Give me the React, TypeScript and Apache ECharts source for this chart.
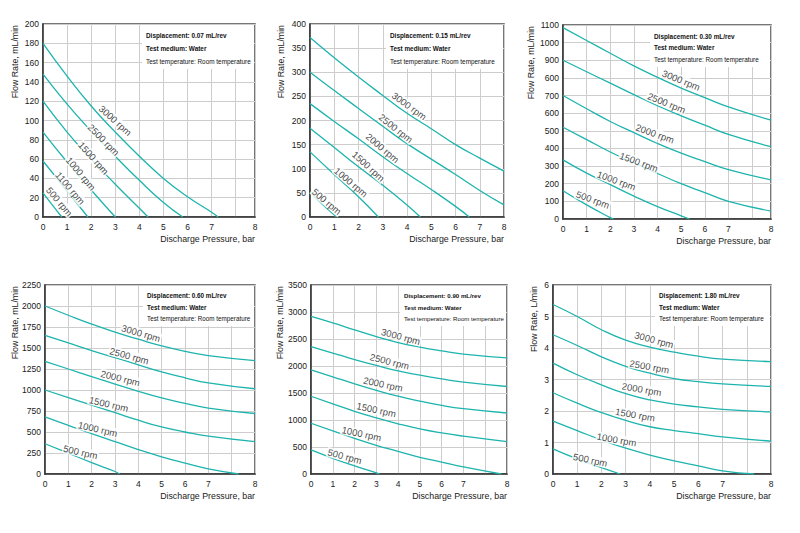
import React, { useEffect, useRef } from "react";
import * as echarts from "echarts";

// ---- data ----
const xTickLabels = ["0", "1", "2", "3", "4", "5", "6", "7", "8"];
// axis position of the last tick label "8" in each panel (reference's uneven last segment)
const xEndPositions = [8.8, 8, 8.8, 9, 9, 9];
const yMaxValues = [200, 400, 1100, 2250, 3500, 6];
const yIntervals = [20, 50, 100, 250, 500, 1];
const panel3YTickLabels = ["0", "100", "200", "300", "400", "500", "600", "700", "600", "900", "1000", "1100"];
const yNames = ["Flow Rate, mL/min", "Flow Rate, mL/min", "Flow Rate, mL/min", "Flow Rate, mL/min", "Flow Rate, mL/min", "Flow Rate, L/min"];
const xName = "Discharge Pressure, bar";
const displacements = ["0.07 mL/rev", "0.15 mL/rev", "0.30 mL/rev", "0.60 mL/rev", "0.90 mL/rev", "1.80 mL/rev"];
const mediumText = "Test medium: Water";
const temperatureText = "Test temperature: Room temperature";

const rpmNamesPanel1 = ["500 rpm", "1100 rpm", "1000 rpm", "1500 rpm", "2500 rpm", "3000 rpm"];
const rpmNames = ["500 rpm", "1000 rpm", "1500 rpm", "2000 rpm", "2500 rpm", "3000 rpm"];

// curves: [pressure (bar), flow]
const panel1Curves = [
  [[0, 25], [0.4, 12], [0.78, 0]],
  [[0, 58], [1, 27], [1.86, 0]],
  [[0, 88], [1, 57], [2, 28], [3.0, 0]],
  [[0, 120], [1, 88], [2, 60], [3, 34], [4, 9], [4.36, 0]],
  [[0, 148], [1, 117], [2, 89], [3, 63], [4, 38], [5, 15], [5.8, 0]],
  [[0, 180], [1, 146], [2, 115], [3, 88], [4, 63], [5, 40], [6, 21], [7, 5], [7.15, 0]],
];
const panel2Curves = [
  [[0, 52], [0.5, 27], [1.1, 0]],
  [[0, 135], [1, 88], [2, 42], [2.82, 0]],
  [[0, 184], [1, 144], [2, 104], [3, 66], [4, 25], [4.55, 0]],
  [[0, 235], [1, 198], [2, 162], [3, 125], [4, 90], [5, 57], [6, 22], [6.57, 0]],
  [[0, 300], [1, 262], [2, 225], [3, 188], [4, 152], [5, 120], [6, 88], [7, 55], [8, 25]],
  [[0, 372], [1, 330], [2, 290], [3, 252], [4, 215], [5, 183], [6, 150], [7, 122], [8, 95]],
];
const panel3Curves = [
  [[0, 160], [1, 80], [2, 8], [2.14, 0]],
  [[0, 335], [1, 260], [2, 195], [3, 130], [4, 70], [5, 18], [5.35, 0]],
  [[0, 520], [1, 450], [2, 380], [3, 318], [4, 258], [5, 200], [6, 150], [7, 100], [8, 45]],
  [[0, 700], [1, 625], [2, 553], [3, 490], [4, 428], [5, 373], [6, 325], [7, 280], [8, 222]],
  [[0, 900], [1, 835], [2, 770], [3, 705], [4, 642], [5, 585], [6, 532], [7, 480], [8, 410]],
  [[0, 1085], [1, 1012], [2, 940], [3, 868], [4, 803], [5, 742], [6, 688], [7, 636], [8, 560]],
];
const panel4Curves = [
  [[0, 360], [1, 248], [2, 135], [3, 30], [3.2, 0]],
  [[0, 680], [1, 580], [2, 480], [3, 385], [4, 290], [5, 205], [6, 130], [7, 60], [7.65, 0]],
  [[0, 1000], [1, 910], [2, 820], [3, 730], [4, 640], [5, 560], [6, 500], [7, 450], [8, 385]],
  [[0, 1340], [1, 1250], [2, 1160], [3, 1070], [4, 985], [5, 905], [6, 840], [7, 785], [8, 720]],
  [[0, 1650], [1, 1560], [2, 1470], [3, 1385], [4, 1300], [5, 1215], [6, 1145], [7, 1085], [8, 1015]],
  [[0, 2000], [1, 1890], [2, 1785], [3, 1690], [4, 1605], [5, 1525], [6, 1460], [7, 1410], [8, 1350]],
];
const panel5Curves = [
  [[0, 445], [1, 290], [2, 150], [3, 20], [3.15, 0]],
  [[0, 940], [1, 800], [2, 660], [3, 530], [4, 420], [5, 310], [6, 220], [7, 130], [7.87, 0]],
  [[0, 1440], [1, 1300], [2, 1160], [3, 1040], [4, 930], [5, 835], [6, 760], [7, 700], [8, 600]],
  [[0, 1930], [1, 1800], [2, 1670], [3, 1550], [4, 1440], [5, 1350], [6, 1270], [7, 1210], [8, 1130]],
  [[0, 2360], [1, 2240], [2, 2120], [3, 2010], [4, 1910], [5, 1830], [6, 1760], [7, 1700], [8, 1620]],
  [[0, 2920], [1, 2800], [2, 2670], [3, 2545], [4, 2435], [5, 2350], [6, 2280], [7, 2220], [8, 2150]],
];
const panel6Curves = [
  [[0, 0.8], [1, 0.48], [2, 0.2], [2.77, 0]],
  [[0, 1.68], [1, 1.38], [2, 1.08], [3, 0.82], [4, 0.6], [5, 0.42], [6, 0.26], [7, 0.1], [7.65, 0]],
  [[0, 2.58], [1, 2.25], [2, 1.95], [3, 1.7], [4, 1.5], [5, 1.38], [6, 1.28], [7, 1.18], [8, 1.04]],
  [[0, 3.52], [1, 3.15], [2, 2.83], [3, 2.55], [4, 2.35], [5, 2.22], [6, 2.13], [7, 2.05], [8, 1.97]],
  [[0, 4.42], [1, 4.08], [2, 3.72], [3, 3.42], [4, 3.2], [5, 3.03], [6, 2.93], [7, 2.86], [8, 2.78]],
  [[0, 5.38], [1, 5.0], [2, 4.58], [3, 4.25], [4, 4.03], [5, 3.87], [6, 3.74], [7, 3.65], [8, 3.57]],
];

// label anchors along the curves [pressure, flow]
const panel1LabelAnchors = [[0.68, 16], [1.13, 30], [1.57, 45], [2.1, 61], [2.52, 80], [3.0, 100]];
const panel2LabelAnchors = [[0.69, 32], [1.69, 72], [2.41, 105], [2.99, 143], [3.54, 184], [4.09, 230]];
const panel3LabelAnchors = [[1.26, 110], [2.26, 218], [3.21, 323], [3.89, 484], [4.38, 658], [5.0, 787]];
const panel4LabelAnchors = [[1.52, 261], [2.26, 535], [2.73, 832], [3.23, 1141], [3.61, 1406], [4.11, 1676]];
const panel5LabelAnchors = [[1.55, 327], [2.32, 745], [3.0, 1189], [3.31, 1664], [3.61, 2083], [4.12, 2545]];
const panel6LabelAnchors = [[1.54, 0.45], [2.63, 1.09], [3.39, 1.88], [3.66, 2.69], [3.98, 3.41], [4.17, 4.26]];

// ---- layout / style ----
const FONT = '"Liberation Sans", Arial, Helvetica, sans-serif';
const CURVE_COLOR = "#1db4ae";
const gridRects = [
  { left: 43, top: 24, width: 212, height: 193 },
  { left: 310, top: 24, width: 194, height: 193 },
  { left: 563, top: 25, width: 208, height: 194 },
  { left: 45, top: 285, width: 210, height: 189 },
  { left: 311, top: 285, width: 196, height: 189 },
  { left: 553, top: 285, width: 218, height: 189 },
];
const labelRotations = [
  [-50, -50, -50, -48, -45, -42],
  [-40, -40, -42, -40, -38, -36],
  [-20, -20, -20, -20, -22, -22],
  [-13, -13, -13, -14, -15, -16],
  [-15, -12, -12, -12, -14, -15],
  [-12, -10, -10, -10, -10, -15],
];
const noteTextX = [146, 390, 654, 147, 404, 659];
const noteLineY = [
  [35, 48, 61],
  [35, 48, 61],
  [36, 47, 59],
  [295, 307, 318],
  [295, 307, 318],
  [295, 307, 318],
];
const noteFontSize = [6.4, 6.4, 6.4, 6.3, 6.1, 6.4];
const yNameX = [15, 281, 531, 15, 280, 534];

const allCurves = [panel1Curves, panel2Curves, panel3Curves, panel4Curves, panel5Curves, panel6Curves];
const allAnchors = [panel1LabelAnchors, panel2LabelAnchors, panel3LabelAnchors, panel4LabelAnchors, panel5LabelAnchors, panel6LabelAnchors];

// the reference's pressure scale: ticks 0..7 evenly spaced, tick "8" at xEnd
function pressureToAxis(p: number, xEnd: number) {
  return p <= 7 ? p : 7 + (p - 7) * (xEnd - 7);
}

function buildOption() {
  const grid: any[] = [];
  const xAxis: any[] = [];
  const yAxis: any[] = [];
  const series: any[] = [];
  const graphic: any[] = [];

  gridRects.forEach((g, i) => {
    const xEnd = xEndPositions[i];
    const tickPositions = xTickLabels.map((l) => pressureToAxis(Number(l), xEnd));
    grid.push({
      ...g,
      show: true,
      borderColor: "#4a4a4a",
      borderWidth: 1.5,
      backgroundColor: "transparent",
      containLabel: false,
    });
    xAxis.push({
      gridIndex: i,
      type: "value",
      min: 0,
      max: xEnd,
      interval: 1,
      axisLine: { show: true, onZero: false, lineStyle: { color: "#333", width: 1.5 } },
      axisTick: { show: false },
      axisLabel: {
        customValues: tickPositions,
        formatter: (v: number) => {
          const k = tickPositions.findIndex((t) => Math.abs(t - v) < 1e-6);
          return k >= 0 ? xTickLabels[k] : "";
        },
        fontSize: 8.5,
        margin: 5,
        color: "#1a1a1a",
        fontFamily: FONT,
      },
      splitLine: { show: true, lineStyle: { color: "#cdcdcd", width: 1 } },
    });
    yAxis.push({
      gridIndex: i,
      type: "value",
      min: 0,
      max: yMaxValues[i],
      interval: yIntervals[i],
      axisLine: { show: true, onZero: false, lineStyle: { color: "#333", width: 1.5 } },
      axisTick: { show: false },
      axisLabel: {
        fontSize: 8.5,
        margin: 4,
        color: "#1a1a1a",
        fontFamily: FONT,
        formatter:
          i === 2
            ? (v: number) => panel3YTickLabels[Math.round(v / yIntervals[2])] ?? String(v)
            : (v: number) => String(v),
      },
      splitLine: { show: true, lineStyle: { color: "#cdcdcd", width: 1 } },
    });

    const names = i === 0 ? rpmNamesPanel1 : rpmNames;
    allCurves[i].forEach((curve, j) => {
      series.push({
        type: "line",
        name: `${names[j]} (${displacements[i]})`,
        xAxisIndex: i,
        yAxisIndex: i,
        data: curve.map(([p, q]) => [pressureToAxis(p, xEnd), q]),
        smooth: 0.5,
        symbol: "none",
        lineStyle: { color: CURVE_COLOR, width: 1.3 },
        silent: true,
        z: 3,
      });
    });
    series.push({
      type: "scatter",
      xAxisIndex: i,
      yAxisIndex: i,
      symbolSize: 1,
      itemStyle: { color: "rgba(0,0,0,0)" },
      silent: true,
      z: 4,
      label: {
        show: true,
        position: "inside",
        fontSize: 9.5,
        color: "#111",
        fontFamily: FONT,
        backgroundColor: "#fff",
        padding: [0, 1],
      },
      data: allAnchors[i].map(([p, q], j) => ({
        value: [pressureToAxis(p, xEnd), q],
        label: { formatter: names[j], rotate: labelRotations[i][j] },
      })),
    });

    // note box
    const right = g.left + g.width;
    const tx = noteTextX[i];
    const ly = noteLineY[i];
    graphic.push({
      type: "rect",
      z: 1,
      shape: { x: tx - 4, y: g.top + 1, width: right - 1 - (tx - 4), height: ly[2] + 8 - (g.top + 1) },
      style: { fill: "#fff" },
      silent: true,
    });
    const fs = noteFontSize[i];
    [
      { t: `Displacement: ${displacements[i]}`, w: "bold" },
      { t: mediumText, w: "bold" },
      { t: temperatureText, w: "normal" },
    ].forEach((line, k) => {
      graphic.push({
        type: "text",
        z: 2,
        x: tx,
        y: ly[k],
        silent: true,
        style: {
          text: line.t,
          fill: "#111",
          font: `${line.w} ${fs}px ${FONT}`,
          align: "left",
          verticalAlign: "middle",
        },
      });
    });
    // axis names
    graphic.push({
      type: "text",
      z: 2,
      x: right,
      y: g.top + g.height + 22,
      silent: true,
      style: { text: xName, fill: "#1a1a1a", font: `8.8px ${FONT}`, align: "right", verticalAlign: "middle" },
    });
    graphic.push({
      type: "text",
      z: 2,
      x: yNameX[i],
      y: g.top + 1,
      rotation: Math.PI / 2,
      silent: true,
      style: { text: yNames[i], fill: "#1a1a1a", font: `8.8px ${FONT}`, align: "right", verticalAlign: "middle" },
    });
  });

  return {
    animation: false,
    backgroundColor: "#ffffff",
    grid,
    xAxis,
    yAxis,
    series,
    graphic,
  };
}

export default function App() {
  const ref = useRef<HTMLDivElement>(null);
  useEffect(() => {
    if (!ref.current) return;
    const chart = echarts.init(ref.current, undefined, { renderer: "svg" });
    chart.setOption(buildOption() as any);
    return () => chart.dispose();
  }, []);
  return (
    <div
      ref={ref}
      style={{ position: "absolute", left: 0, top: 0, width: 800, height: 533, background: "#fff" }}
    />
  );
}
